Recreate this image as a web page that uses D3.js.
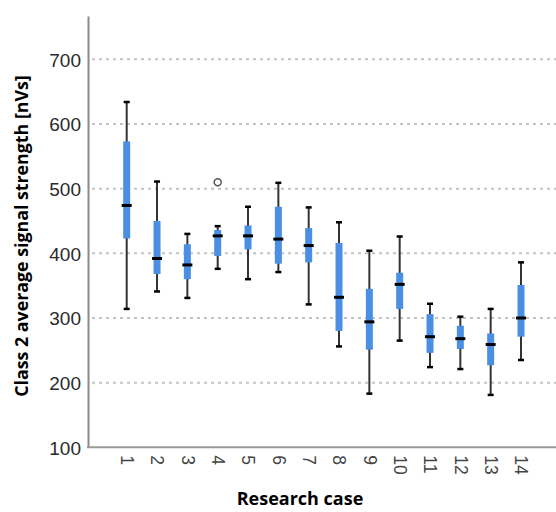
<html>
<head>
<style type="text/css">
  body { margin: 0; background: #fff; }
  .grid line { stroke: #c2c2c2; stroke-width: 2px; stroke-dasharray: 3,4; }
  .yaxis text { font-family: "Liberation Sans", Arial, sans-serif; font-size: 19px; fill: #2a2a2a; }
  .xaxis text { font-family: "Liberation Sans", Arial, sans-serif; font-size: 17.5px; fill: #444; }
  .title { font-family: "Open Sans", sans-serif; font-weight: bold; fill: #000; }
</style>
</head>
<body>

<svg id="chart" width="556" height="512"></svg>

<script src="https://cdn.jsdelivr.net/npm/d3@7/dist/d3.min.js"></script>

<script>
  // DATA
  var cases = ["1", "2", "3", "4", "5", "6", "7", "8", "9", "10", "11", "12", "13", "14"];
  var whiskerLow  = [314, 341, 331, 376, 360, 371, 321, 256, 183, 265, 224, 221, 181, 235];
  var q1          = [423, 368, 360, 396, 406, 384, 386, 280, 251, 314, 246, 252, 227, 271];
  var median      = [474, 392, 382, 427, 427, 422, 412, 332, 294, 352, 271, 268, 259, 300];
  var q3          = [573, 450, 414, 436, 443, 472, 439, 416, 345, 370, 306, 288, 276, 351];
  var whiskerHigh = [634, 511, 430, 442, 472, 509, 471, 448, 404, 426, 322, 302, 314, 386];
  var outliers = [{ "case": "4", "value": 510 }];
  var yTicks = [100, 200, 300, 400, 500, 600, 700];

  var boxes = cases.map(function(c, i) {
    return { id: c, lo: whiskerLow[i], q1: q1[i], med: median[i], q3: q3[i], hi: whiskerHigh[i] };
  });

  var svg = d3.select("#chart"),
    width = +svg.attr("width"),
    height = +svg.attr("height");

  var axisX = 88, baseY = 447.3;

  var y = d3.scaleLinear()
    .domain([100, 767])
    .range([baseY, 16]);

  var x = d3.scalePoint()
    .domain(cases)
    .range([126.7, 521]);

  // grid lines
  svg.append("g")
    .attr("class", "grid")
    .selectAll("line")
    .data(yTicks.filter(function(d) { return d > 100; }))
    .enter()
    .append("line")
    .attr("x1", axisX + 4)
    .attr("x2", width)
    .attr("y1", function(d) { return y(d); })
    .attr("y2", function(d) { return y(d); });

  // y axis
  var yAxis = svg.append("g")
    .attr("class", "yaxis")
    .attr("transform", "translate(" + axisX + ",0)")
    .call(d3.axisLeft(y).tickValues(yTicks).tickSize(0).tickPadding(7));
  yAxis.select(".domain").attr("stroke", "#8a8a8a").attr("stroke-width", 2);
  yAxis.selectAll("text").attr("dy", "0.36em");

  // x baseline
  svg.append("line")
    .attr("x1", axisX - 1)
    .attr("x2", width)
    .attr("y1", baseY)
    .attr("y2", baseY)
    .attr("stroke", "#9a9a9a")
    .attr("stroke-width", 2);

  // x axis labels, rotated
  var xAxis = svg.append("g")
    .attr("class", "xaxis")
    .attr("transform", "translate(0," + baseY + ")")
    .call(d3.axisBottom(x).tickSize(0).tickPadding(0));
  xAxis.select(".domain").remove();
  xAxis.selectAll("text")
    .attr("y", 0)
    .attr("x", 0)
    .attr("dy", "0.35em")
    .attr("text-anchor", "start")
    .attr("transform", "translate(0,8) rotate(90)");

  // boxes
  var g = svg.append("g").attr("class", "boxes");
  var box = g.selectAll("g")
    .data(boxes)
    .enter()
    .append("g")
    .attr("transform", function(d) { return "translate(" + x(d.id) + ",0)"; });

  box.append("line")
    .attr("y1", function(d) { return y(d.lo); })
    .attr("y2", function(d) { return y(d.hi); })
    .attr("stroke", "#333")
    .attr("stroke-width", 2);

  box.append("rect")
    .attr("x", -3.5)
    .attr("width", 7)
    .attr("y", function(d) { return y(d.q3); })
    .attr("height", function(d) { return y(d.q1) - y(d.q3); })
    .attr("fill", "#4a8fe3");

  box.append("rect")
    .attr("x", -5)
    .attr("width", 10)
    .attr("y", function(d) { return y(d.med) - 1.5; })
    .attr("height", 3)
    .attr("fill", "#000");

  box.selectAll(".cap")
    .data(function(d) { return [d.lo, d.hi]; })
    .enter()
    .append("rect")
    .attr("class", "cap")
    .attr("x", -3)
    .attr("width", 6)
    .attr("y", function(v) { return y(v) - 1.25; })
    .attr("height", 2.5)
    .attr("fill", "#000");

  // outliers
  svg.selectAll(".outlier")
    .data(outliers)
    .enter()
    .append("circle")
    .attr("class", "outlier")
    .attr("cx", function(d) { return x(d.case); })
    .attr("cy", function(d) { return y(d.value); })
    .attr("r", 3.5)
    .attr("fill", "none")
    .attr("stroke", "#555")
    .attr("stroke-width", 1.5);

  // axis titles
  svg.append("text")
    .attr("class", "title")
    .attr("transform", "translate(28,236) rotate(-90)")
    .attr("text-anchor", "middle")
    .style("font-size", "17.8px")
    .text("Class 2 average signal strength [nVs]");

  svg.append("text")
    .attr("class", "title")
    .attr("x", 300)
    .attr("y", 505)
    .attr("text-anchor", "middle")
    .style("font-size", "18px")
    .text("Research case");
</script>
</body>
</html>
